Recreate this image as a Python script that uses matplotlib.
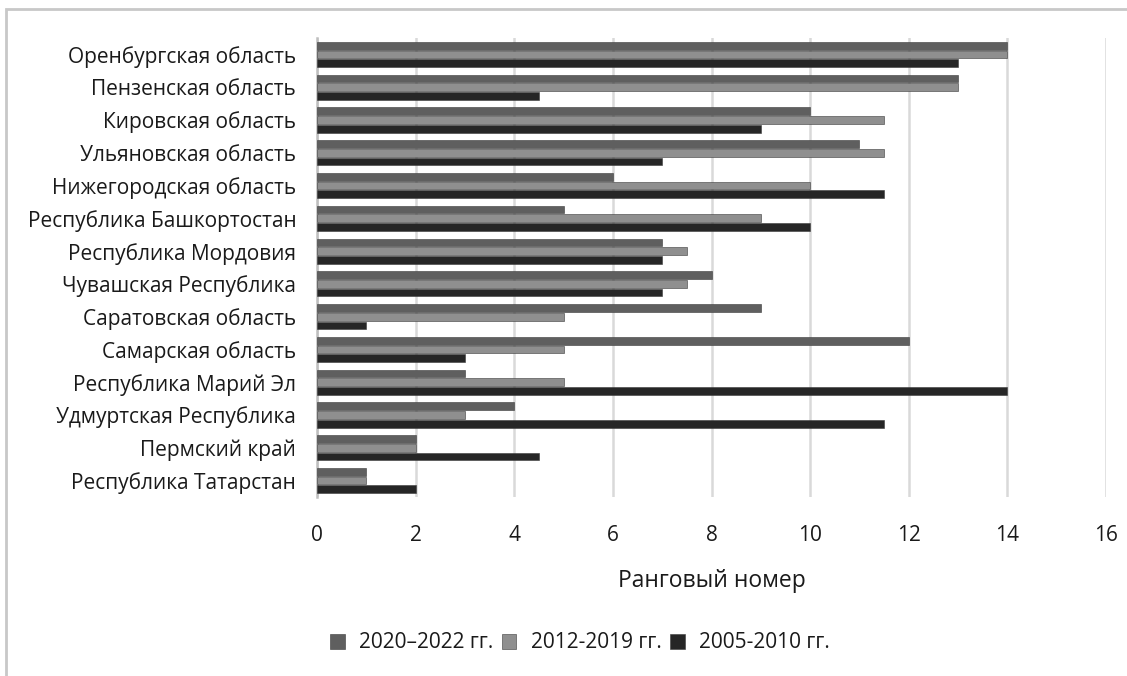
import numpy as np
import matplotlib
matplotlib.use("Agg")
import matplotlib.pyplot as plt
from matplotlib.patches import Rectangle

plt.rcParams['font.family'] = ['Open Sans', 'DejaVu Sans']

# regions, top to bottom as in the chart
regions = [
    'Оренбургская область', 'Пензенская область', 'Кировская область',
    'Ульяновская область', 'Нижегородская область', 'Республика Башкортостан',
    'Республика Мордовия', 'Чувашская Республика', 'Саратовская область',
    'Самарская область', 'Республика Марий Эл', 'Удмуртская Республика',
    'Пермский край', 'Республика Татарстан',
]
rank_2020_2022 = [14, 13, 10, 11, 6, 5, 7, 8, 9, 12, 3, 4, 2, 1]
rank_2012_2019 = [14, 13, 11.5, 11.5, 10, 9, 7.5, 7.5, 5, 5, 5, 3, 2, 1]
rank_2005_2010 = [13, 4.5, 9, 7, 11.5, 10, 7, 7, 1, 3, 14, 11.5, 4.5, 2]

series = [
    ('2020–2022 гг.', rank_2020_2022, '#5f5f5f'),
    ('2012-2019 гг.', rank_2012_2019, '#8f8f8f'),
    ('2005-2010 гг.', rank_2005_2010, '#262626'),
]

fig = plt.figure(figsize=(11.27, 6.76), dpi=100)
ax = fig.add_axes([317 / 1127, 1 - 497 / 676, (1106 - 317) / 1127, (497 - 38) / 676])

# frame around the chart area (only left and top edges visible)
fig.patches.append(Rectangle((6 / 1127, -0.1), 1.2, 1 - 9 / 676 + 0.1,
                             transform=fig.transFigure, fill=False,
                             edgecolor='#c8c8c8', linewidth=2))

y = np.arange(len(regions))
h = 0.235
for i, (label, vals, color) in enumerate(series):
    ax.barh(y + (i - 1) * (h + 0.03), vals, height=h, color=color,
            edgecolor='#3a3a3a', linewidth=0.4, label=label, zorder=3)

ax.set_ylim(len(regions) - 0.5, -0.5)
ax.set_xlim(0, 16)
ax.set_xticks(range(0, 17, 2))
ax.set_yticks(y)
ax.set_yticklabels(regions)
ax.tick_params(axis='both', length=0, labelsize=15, colors='#1a1a1a')
ax.tick_params(axis='x', pad=20)
ax.tick_params(axis='y', pad=15)
ax.grid(axis='x', color='#d9d9d9', linewidth=1.8, zorder=0)
for side in ['top', 'right', 'bottom']:
    ax.spines[side].set_visible(False)
ax.spines['left'].set_color('#bfbfbf')
ax.spines['left'].set_linewidth(1.8)

ax.set_xlabel('Ранговый номер', fontsize=16.5, color='#1a1a1a', labelpad=17)

fig.legend(loc='center', bbox_to_anchor=(580 / 1127, 1 - 643 / 676), ncol=3,
           frameon=False, fontsize=15, handlelength=0.7, handleheight=0.7,
           handletextpad=0.7, columnspacing=0.4, labelcolor='#1a1a1a')

fig.savefig('out.png', dpi=100, facecolor='white')
